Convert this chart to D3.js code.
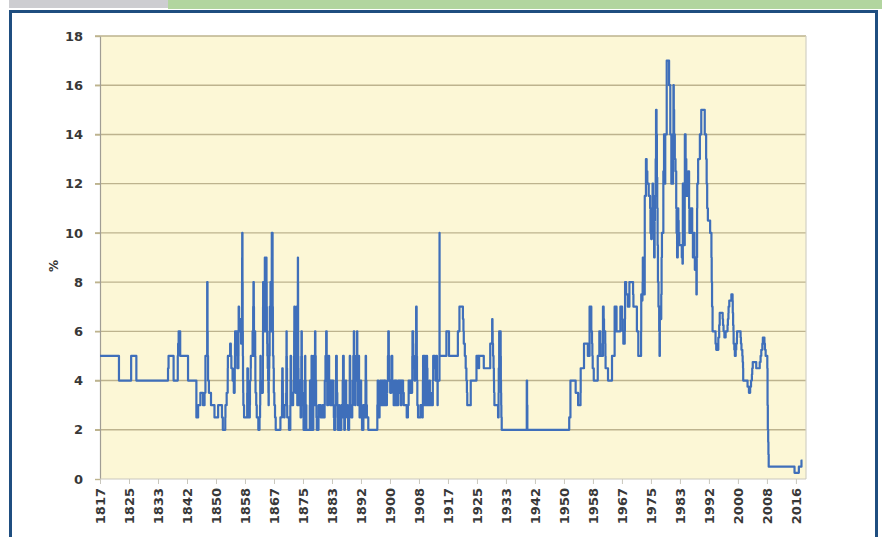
<!DOCTYPE html>
<html>
<head>
<meta charset="utf-8">
<script src="https://cdn.jsdelivr.net/npm/d3@7/dist/d3.min.js"></script>
<style>
  body { margin: 0; background: #ffffff; }
  svg { display: block; }
</style>
</head>
<body>
<svg id="chart" width="882" height="537"></svg>
<script>
// 縦軸の目盛り
var yTicks = [0, 2, 4, 6, 8, 10, 12, 14, 16, 18];

// 横軸のラベル(等間隔に並ぶ)
var xTickLabels = ["1817", "1825", "1833", "1842", "1850", "1858", "1867", "1875",
  "1883", "1892", "1900", "1908", "1917", "1925", "1933", "1942", "1950", "1958",
  "1967", "1975", "1983", "1992", "2000", "2008", "2016"];

// 金利の変更点 [年, %] (次の変更まで同じ値)
var rate1817 = [
  [1817.0, 5], [1822.45, 4], [1825.95, 5], [1827.45, 4], [1836.55, 4.5], [1836.7, 5],
  [1838.15, 4], [1839.35, 5], [1839.45, 5.5], [1839.6, 6], [1840.05, 5], [1842.3, 4],
  [1844.7, 2.5], [1845.2, 3], [1845.85, 3.5], [1846.6, 3], [1847.05, 3.5], [1847.3, 5],
  [1847.8, 8], [1847.9, 6], [1847.95, 5], [1848.05, 4], [1848.3, 3.5], [1848.9, 3],
  [1849.9, 2.5], [1850.95, 3], [1852.05, 2.5], [1852.3, 2], [1853.0, 2.5], [1853.05, 3],
  [1853.4, 3.5], [1853.7, 4], [1853.72, 4.5], [1853.75, 5], [1854.4, 5.5], [1854.6, 5],
  [1854.75, 4.5], [1855.1, 4], [1855.45, 3.5], [1855.7, 4], [1855.73, 4.5], [1855.78, 5],
  [1855.8, 5.5], [1855.82, 6], [1856.4, 5], [1856.45, 4.5], [1856.78, 5], [1856.8, 6],
  [1856.85, 7], [1856.95, 6.5], [1857.0, 6], [1857.3, 6.5], [1857.55, 5.5], [1857.77, 6],
  [1857.8, 7], [1857.82, 8], [1857.84, 9], [1857.87, 10], [1857.95, 8], [1858.0, 6],
  [1858.05, 5], [1858.1, 4], [1858.15, 3.5], [1858.2, 3], [1858.4, 2.5], [1859.3, 3.5],
  [1859.35, 4.5], [1859.5, 3.5], [1859.55, 3], [1859.58, 2.5], [1860.05, 3], [1860.1, 4],
  [1860.3, 4.5], [1860.35, 5], [1860.85, 6], [1860.9, 5], [1861.0, 6], [1861.02, 7],
  [1861.1, 8], [1861.2, 7], [1861.25, 6], [1861.35, 5], [1861.45, 6], [1861.6, 5],
  [1861.65, 4], [1861.7, 3.5], [1861.9, 3], [1862.05, 2.5], [1862.5, 2], [1862.85, 2.5],
  [1863.0, 3], [1863.05, 4], [1863.1, 5], [1863.15, 4], [1863.3, 3.5], [1863.8, 4],
  [1863.82, 5], [1863.84, 6], [1863.86, 7], [1863.88, 8], [1863.95, 7], [1864.0, 8],
  [1864.05, 7], [1864.15, 6], [1864.3, 7], [1864.35, 8], [1864.37, 9], [1864.4, 8],
  [1864.43, 7], [1864.45, 6], [1864.6, 7], [1864.63, 8], [1864.66, 9], [1864.85, 8],
  [1864.9, 7], [1864.95, 6], [1865.05, 5.5], [1865.1, 5], [1865.2, 4.5], [1865.3, 4],
  [1865.4, 3.5], [1865.45, 3], [1865.5, 4], [1865.6, 4.5], [1865.65, 5], [1865.75, 6],
  [1865.8, 7], [1865.9, 6], [1866.0, 8], [1866.1, 7], [1866.2, 6], [1866.33, 7],
  [1866.35, 8], [1866.36, 9], [1866.37, 10], [1866.6, 8], [1866.62, 7], [1866.68, 6],
  [1866.72, 5], [1866.85, 4.5], [1866.95, 3.5], [1867.1, 3], [1867.3, 2.5], [1867.5, 2]
];

var rate1868 = [
  [1868.85, 2.5], [1869.3, 3], [1869.32, 4], [1869.38, 4.5], [1869.5, 4], [1869.55, 3.5],
  [1869.6, 3], [1869.9, 2.5], [1870.05, 3], [1870.5, 3.5], [1870.55, 4], [1870.56, 5],
  [1870.6, 6], [1870.65, 5], [1870.7, 4.5], [1870.75, 3], [1870.8, 2.5], [1871.3, 2],
  [1871.7, 3], [1871.75, 4], [1871.78, 5], [1871.9, 4], [1871.95, 3], [1872.25, 3.5],
  [1872.3, 3], [1872.5, 3.5], [1872.7, 4], [1872.75, 5], [1872.8, 6], [1872.85, 7],
  [1872.95, 6], [1873.0, 5], [1873.05, 4], [1873.2, 3.5], [1873.3, 4], [1873.4, 4.5],
  [1873.42, 5], [1873.45, 6], [1873.5, 7], [1873.55, 6], [1873.6, 5], [1873.65, 4],
  [1873.7, 3], [1873.75, 4], [1873.8, 5], [1873.82, 6], [1873.84, 7], [1873.86, 8],
  [1873.87, 9], [1873.9, 8], [1873.93, 6], [1873.96, 5], [1874.0, 4.5], [1874.05, 4],
  [1874.1, 3.5], [1874.2, 3], [1874.4, 4], [1874.5, 3.5], [1874.6, 3], [1874.65, 2.5],
  [1874.8, 4], [1874.85, 5], [1874.9, 6], [1875.0, 5], [1875.05, 4], [1875.15, 3.5],
  [1875.3, 3], [1875.45, 2.5], [1875.5, 2], [1875.85, 3], [1875.88, 4], [1875.95, 5],
  [1876.0, 4], [1876.1, 3], [1876.3, 2], [1877.3, 3], [1877.35, 4], [1877.45, 3],
  [1877.55, 2], [1877.7, 3], [1877.75, 4], [1877.8, 5], [1877.9, 4], [1878.0, 3],
  [1878.1, 2], [1878.3, 3], [1878.35, 4], [1878.45, 5], [1878.55, 4], [1878.6, 3],
  [1878.75, 4], [1878.78, 5], [1878.8, 6], [1878.9, 5], [1879.0, 4], [1879.1, 3],
  [1879.2, 2.5], [1879.3, 2], [1879.8, 2.5], [1879.85, 3], [1880.45, 2.5], [1881.0, 3],
  [1881.15, 2.5], [1881.55, 3], [1881.6, 4], [1881.8, 5], [1882.0, 6], [1882.15, 5],
  [1882.2, 4], [1882.3, 3], [1882.55, 4], [1882.7, 5], [1882.85, 4], [1883.0, 3.5],
  [1883.15, 3], [1883.2, 4], [1883.3, 3], [1883.5, 4], [1883.6, 3], [1883.8, 4],
  [1884.0, 3], [1884.2, 2.5], [1884.3, 2], [1884.6, 3], [1884.75, 4], [1884.85, 5],
  [1885.05, 4], [1885.1, 3.5], [1885.2, 3], [1885.3, 2.5], [1885.35, 2], [1885.7, 3],
  [1885.75, 2.5], [1886.0, 2], [1886.35, 3], [1886.6, 2.5], [1886.7, 3], [1886.75, 4],
  [1886.85, 5], [1887.05, 4], [1887.15, 3], [1887.2, 2], [1887.4, 3], [1887.5, 2.5],
  [1887.6, 4], [1887.75, 3], [1888.1, 2.5], [1888.3, 2], [1888.6, 3], [1888.75, 4],
  [1888.78, 5], [1888.9, 4], [1889.0, 3], [1889.2, 2.5], [1889.5, 3], [1889.7, 4],
  [1889.8, 5], [1889.95, 6], [1890.05, 5], [1890.1, 4], [1890.3, 3], [1890.4, 4],
  [1890.6, 5], [1890.7, 4], [1890.85, 5], [1890.87, 6], [1890.95, 5], [1891.05, 4],
  [1891.1, 3], [1891.35, 4], [1891.4, 5], [1891.45, 4], [1891.5, 3], [1891.6, 2.5],
  [1891.8, 3], [1891.9, 4], [1892.05, 3], [1892.2, 2.5], [1892.3, 2], [1892.7, 3],
  [1893.05, 2.5], [1893.3, 4], [1893.35, 5], [1893.45, 4], [1893.55, 3], [1893.7, 2.5],
  [1894.1, 2], [1896.7, 3], [1896.8, 4], [1897.0, 3], [1897.1, 2.5], [1897.35, 3],
  [1897.6, 4], [1897.75, 3], [1898.0, 4], [1898.2, 3], [1898.5, 4], [1898.8, 3],
  [1898.9, 4], [1899.0, 3.5], [1899.1, 3], [1899.45, 3.5], [1899.55, 4], [1899.75, 5],
  [1899.85, 6], [1900.0, 5], [1900.1, 4], [1900.4, 3.5], [1900.45, 4], [1900.6, 3.5],
  [1900.7, 4], [1900.8, 5], [1901.0, 4], [1901.2, 3.5], [1901.4, 3], [1901.6, 4],
  [1901.8, 3], [1902.0, 4], [1902.2, 3.5], [1902.3, 3], [1902.7, 4], [1903.1, 3.5],
  [1903.3, 4], [1903.45, 3], [1903.65, 4], [1904.1, 3.5], [1904.3, 3], [1905.15, 2.5],
  [1905.5, 3], [1905.7, 4], [1906.0, 3.5], [1906.3, 4], [1906.5, 3.5], [1906.7, 4],
  [1906.75, 5], [1906.8, 6], [1907.0, 5], [1907.2, 4.5], [1907.4, 4], [1907.6, 4.5],
  [1907.8, 5.5], [1907.85, 7], [1908.0, 6], [1908.05, 5], [1908.1, 4], [1908.2, 3],
  [1908.4, 2.5], [1909.1, 3], [1909.6, 2.5], [1909.75, 3], [1909.8, 4], [1909.85, 5],
  [1910.0, 4.5], [1910.05, 4], [1910.1, 3], [1910.25, 4], [1910.3, 5], [1910.45, 3.5],
  [1910.5, 3], [1910.8, 4], [1910.9, 5], [1911.0, 4.5], [1911.1, 3.5], [1911.2, 3],
  [1911.7, 4], [1911.8, 3.5], [1912.1, 3], [1912.65, 4], [1912.75, 5], [1913.25, 4.5],
  [1913.45, 4], [1913.65, 5], [1913.85, 4], [1914.0, 3], [1914.05, 4]
];

var rate1914 = [
  [1914.55, 4], [1914.57, 8], [1914.58, 10], [1914.59, 6], [1914.6, 5], [1916.55, 6],
  [1917.3, 5], [1919.85, 6], [1920.3, 7], [1921.3, 6.5], [1921.45, 6], [1921.55, 5.5],
  [1921.85, 5], [1922.1, 4.5], [1922.3, 4], [1922.45, 3.5], [1922.55, 3], [1923.55, 4],
  [1925.2, 5], [1925.8, 4.5], [1925.95, 5], [1927.3, 4.5], [1929.15, 5.5], [1929.7, 6.5],
  [1929.8, 6], [1929.85, 5.5], [1929.95, 5], [1930.1, 4.5], [1930.2, 4], [1930.25, 3.5],
  [1930.35, 3], [1931.4, 2.5], [1931.55, 3.5], [1931.6, 4.5], [1931.72, 6], [1932.15, 5],
  [1932.2, 4], [1932.25, 3.5], [1932.3, 3], [1932.35, 2.5], [1932.45, 2], [1939.65, 4],
  [1939.74, 3], [1939.82, 2]
];

var rate1951 = [
  [1951.85, 2.5], [1952.2, 4], [1953.7, 3.5], [1954.4, 3], [1955.1, 3.5], [1955.15, 4.5],
  [1956.1, 5.5], [1957.2, 5], [1957.7, 7], [1958.2, 6], [1958.4, 5.5], [1958.5, 5],
  [1958.6, 4.5], [1958.9, 4], [1960.05, 5], [1960.5, 6], [1960.8, 5.5], [1960.9, 5],
  [1961.55, 7], [1961.75, 6.5], [1961.85, 6], [1962.2, 5.5], [1962.25, 5], [1962.3, 4.5],
  [1963.0, 4], [1964.15, 5], [1964.9, 7], [1965.45, 6], [1966.55, 7], [1967.05, 6.5],
  [1967.2, 6], [1967.4, 5.5], [1967.8, 6], [1967.85, 6.5], [1967.9, 8], [1968.2, 7.5],
  [1968.7, 7], [1969.15, 8], [1970.2, 7.5], [1970.3, 7], [1971.3, 6], [1971.7, 5],
  [1972.5, 6], [1972.55, 7.5], [1972.8, 7.25], [1972.9, 7.5], [1972.95, 8], [1973.0, 9],
  [1973.1, 8.75], [1973.3, 8], [1973.45, 7.5], [1973.55, 9], [1973.56, 11.5], [1973.9, 13],
  [1974.1, 12.5], [1974.3, 12], [1974.7, 11.5], [1975.1, 11], [1975.2, 10], [1975.4, 9.75],
  [1975.6, 10], [1975.7, 11], [1975.8, 12], [1975.95, 11.25], [1976.1, 10], [1976.25, 9],
  [1976.4, 10.5], [1976.5, 11.5], [1976.7, 13], [1976.8, 15], [1976.95, 14], [1977.05, 12.25],
  [1977.15, 11], [1977.25, 9.5], [1977.35, 8], [1977.5, 7], [1977.7, 6], [1977.8, 5],
  [1977.9, 7], [1978.1, 6.5], [1978.3, 7.5], [1978.4, 9], [1978.5, 10], [1978.9, 12.5],
  [1979.1, 14], [1979.2, 13], [1979.3, 12], [1979.45, 14], [1979.87, 17], [1980.55, 16],
  [1980.9, 14], [1981.2, 12], [1981.7, 14], [1981.8, 16], [1981.9, 15], [1982.0, 14],
  [1982.2, 13], [1982.4, 12.5], [1982.6, 11], [1982.7, 10], [1982.85, 9], [1983.05, 11],
  [1983.2, 10.5], [1983.3, 10], [1983.5, 9.5], [1984.2, 9], [1984.4, 8.75], [1984.5, 12],
  [1984.7, 10.5], [1984.9, 9.5], [1985.05, 12], [1985.08, 14], [1985.3, 13], [1985.5, 12.5],
  [1985.6, 11.5], [1986.05, 12.5], [1986.3, 11], [1986.4, 10], [1986.8, 11], [1987.2, 10],
  [1987.4, 9], [1987.7, 10], [1987.85, 9], [1987.95, 8.5], [1988.2, 9], [1988.4, 7.5],
  [1988.5, 9], [1988.6, 11], [1988.65, 12], [1988.9, 13], [1989.4, 14], [1989.8, 15],
  [1990.8, 14], [1991.2, 13], [1991.35, 12], [1991.5, 11], [1991.7, 10.5], [1992.35, 10],
  [1992.72, 9], [1992.8, 8], [1992.9, 7], [1993.05, 6], [1993.9, 5.5], [1994.1, 5.25],
  [1994.7, 5.75], [1994.95, 6.25], [1995.1, 6.75], [1995.95, 6.5], [1996.05, 6.25],
  [1996.2, 6], [1996.45, 5.75], [1996.8, 6], [1997.35, 6.25], [1997.45, 6.5], [1997.6, 6.75],
  [1997.65, 7], [1997.85, 7.25], [1998.45, 7.5], [1998.8, 7.25], [1998.85, 6.75],
  [1998.95, 6.25], [1999.05, 6], [1999.1, 5.5], [1999.3, 5.25], [1999.45, 5], [1999.7, 5.25],
  [1999.85, 5.5], [2000.05, 5.75], [2000.1, 6], [2001.1, 5.75], [2001.2, 5.5], [2001.35, 5.25],
  [2001.6, 5], [2001.7, 4.75], [2001.8, 4.5], [2001.85, 4], [2003.1, 3.75], [2003.5, 3.5],
  [2003.85, 3.75], [2004.1, 4], [2004.35, 4.25], [2004.45, 4.5], [2004.6, 4.75], [2005.6, 4.5],
  [2006.6, 4.75], [2006.85, 5], [2007.05, 5.25], [2007.35, 5.5], [2007.5, 5.75], [2007.95, 5.5],
  [2008.1, 5.25], [2008.3, 5], [2008.78, 4.5], [2008.85, 3], [2008.93, 2], [2009.03, 1.5],
  [2009.1, 1], [2009.18, 0.5], [2016.6, 0.25], [2017.85, 0.5], [2018.6, 0.75], [2018.9, 0.75]
];

var baseRate = rate1817.concat(rate1868, rate1914, rate1951);

// ---- 描画 ----
var svg = d3.select("#chart");
var plot = { left: 100, right: 806, top: 36, bottom: 479 };

// 上部の帯と枠
svg.append("rect").attr("x", 9).attr("y", 0).attr("width", 159).attr("height", 8).attr("fill", "#cdcdd1");
svg.append("rect").attr("x", 168).attr("y", 0).attr("width", 714).attr("height", 9).attr("fill", "#b2d59f");
svg.append("rect")
  .attr("x", 10.5).attr("y", 11.5).attr("width", 866).attr("height", 560)
  .attr("fill", "#ffffff").attr("stroke", "#1f4e80").attr("stroke-width", 3);

var x = d3.scaleLinear().domain([1817, 2019.9]).range([plot.left, plot.right]);
var y = d3.scaleLinear().domain([0, 18]).range([plot.bottom, plot.top]);
// ラベルは等間隔(1817〜2017を24等分)
var xLabelScale = d3.scalePoint().domain(xTickLabels).range([x(1817), x(2017)]);

// プロットエリア
svg.append("rect")
  .attr("x", plot.left).attr("y", plot.top)
  .attr("width", plot.right - plot.left).attr("height", plot.bottom - plot.top)
  .attr("fill", "#fcf7d6");

// 横のグリッド線
svg.append("g")
  .selectAll("line")
  .data(yTicks.filter((d) => d > 0))
  .enter()
  .append("line")
  .attr("x1", plot.left - 5)
  .attr("x2", plot.right)
  .attr("y1", (d) => y(d))
  .attr("y2", (d) => y(d))
  .attr("stroke", "#bdb38e")
  .attr("stroke-width", 1.4);

// 右端の枠線
svg.append("line")
  .attr("x1", plot.right).attr("x2", plot.right)
  .attr("y1", plot.top).attr("y2", plot.bottom)
  .attr("stroke", "#d2d0c4").attr("stroke-width", 1.2);

// 縦軸
var yAxis = svg.append("g")
  .attr("transform", `translate(${plot.left},0)`)
  .call(d3.axisLeft(y).tickValues(yTicks).tickSize(5).tickSizeOuter(0).tickPadding(12));
yAxis.select(".domain").attr("stroke", "#a09d94").attr("stroke-width", 1.2);
yAxis.selectAll(".tick line").attr("stroke", "#bdb38e").attr("stroke-width", 1.4);
yAxis.selectAll(".tick text")
  .attr("font-family", "'DejaVu Sans', sans-serif")
  .attr("font-weight", "bold")
  .attr("font-size", 13)
  .attr("fill", "#383838");

// 横軸
var xAxis = svg.append("g")
  .attr("transform", `translate(0,${plot.bottom})`)
  .call(d3.axisBottom(xLabelScale).tickSize(5).tickSizeOuter(0));
xAxis.select(".domain").remove();
xAxis.append("line")
  .attr("x1", plot.left).attr("x2", plot.right)
  .attr("y1", 0).attr("y2", 0)
  .attr("stroke", "#c9c7bd").attr("stroke-width", 1.2);
xAxis.selectAll(".tick line").attr("stroke", "#c9c7bd");
xAxis.selectAll(".tick text")
  .attr("transform", "rotate(-90)")
  .attr("text-anchor", "end")
  .attr("x", -9)
  .attr("y", 0)
  .attr("dy", "0.36em")
  .attr("font-family", "'DejaVu Sans', sans-serif")
  .attr("font-weight", "bold")
  .attr("font-size", 13)
  .attr("fill", "#383838");

// 縦軸タイトル
svg.append("text")
  .attr("transform", "translate(58,266) rotate(-90)")
  .attr("text-anchor", "middle")
  .attr("font-family", "'DejaVu Sans', sans-serif")
  .attr("font-weight", "bold")
  .attr("font-size", 12)
  .attr("fill", "#383838")
  .text("%");

// 金利の線
var line = d3.line()
  .x((d) => x(d[0]))
  .y((d) => y(d[1]))
  .curve(d3.curveStepAfter);

svg.append("path")
  .datum(baseRate)
  .attr("d", line)
  .attr("fill", "none")
  .attr("stroke", "#3f6fba")
  .attr("stroke-width", 2.2)
  .attr("stroke-linejoin", "round");
</script>
</body>
</html>
